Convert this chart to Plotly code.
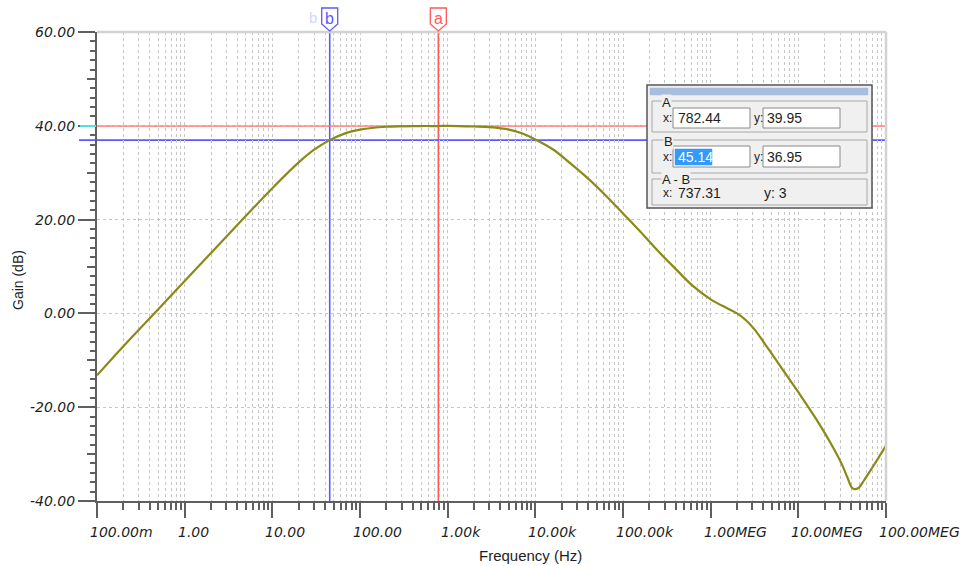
import math
import plotly.graph_objects as go

# ---------------- data ----------------
freq_hz = [0.1, 0.2, 0.5, 1, 2, 5, 10, 20, 30, 45.14, 70, 100, 200, 500, 782.44,
           1000, 2000, 3000, 5000, 7000, 10000, 15800, 25100, 39800, 63100, 100000,
           158000, 251000, 398000, 631000, 1000000, 1580000, 2000000, 2510000,
           3160000, 3980000, 5010000, 6310000, 10000000, 15800000, 25100000,
           31600000, 36300000, 41700000, 47900000, 56200000, 70800000, 83200000,
           100000000]
gain_db = [-13.2, -7.0, 0.9, 6.9, 12.9, 20.8, 26.7, 32.2, 34.9, 36.95, 38.5, 39.2,
           39.8, 39.95, 39.95, 40.0, 39.85, 39.7, 39.2, 38.4, 37.1, 35.0, 32.0, 28.8,
           25.2, 21.3, 17.4, 13.3, 9.5, 5.8, 3.0, 1.0, 0.0, -1.4, -3.4, -6.0, -8.7,
           -11.4, -16.8, -22.4, -28.7, -32.3, -35.0, -37.3, -37.3, -35.6, -32.7,
           -30.6, -28.2]

x_tick_vals = [0.1, 1, 10, 100, 1e3, 1e4, 1e5, 1e6, 1e7, 1e8]
x_tick_text = ["100.00m", "1.00", "10.00", "100.00", "1.00k", "10.00k", "100.00k",
               "1.00MEG", "10.00MEG", "100.00MEG"]
y_tick_vals = [-40, -20, 0, 20, 40, 60]
y_tick_text = ["-40.00", "-20.00", "0.00", "20.00", "40.00", "60.00"]
y_mid_ticks = [-30, -10, 10, 30, 50]

cursor_a = (782.44, 39.95)
cursor_b = (45.14, 36.95)
delta_ab = (737.31, 3)

# ---------------- layout geometry (pixels) ----------------
W, H = 966, 566
L, R, T, B = 97, 886, 32, 501
PW, PH = R - L, B - T


def px(x):
    return (x - L) / PW


def py(y):
    return (B - y) / PH


AXC = "#5f5f5f"
GRIDC = "#c6c6c6"
TXT = "#1e1e1e"
CURVE = "#8a8a17"
RED = "#ff5a5a"
BLUE = "#5a5aff"
FONT = "Liberation Sans, Arial, sans-serif"
TICKFONT = dict(family="DejaVu Sans, sans-serif", size=14, color=TXT, style="italic")

fig = go.Figure()

fig.add_trace(go.Scatter(
    x=freq_hz, y=gain_db, mode="lines",
    line=dict(color=CURVE, width=2.2, shape="spline", smoothing=1.0),
    hoverinfo="skip", showlegend=False))

# invisible trace to activate yaxis2 overlay (for 10 dB ticks)
fig.add_trace(go.Scatter(x=[freq_hz[0]], y=[gain_db[0]], yaxis="y2", mode="markers",
                         marker=dict(opacity=0), hoverinfo="skip", showlegend=False))

shapes = []
annotations = []

# cursor lines (between grid and traces)
shapes.append(dict(type="line", xref="x", yref="paper", x0=cursor_a[0], x1=cursor_a[0],
                   y0=0, y1=1, line=dict(color=RED, width=1.6), layer="between"))
shapes.append(dict(type="line", xref="x", yref="paper", x0=cursor_b[0], x1=cursor_b[0],
                   y0=0, y1=1, line=dict(color=BLUE, width=1.6), layer="between"))
shapes.append(dict(type="line", xref="paper", yref="y", x0=0, x1=1,
                   y0=cursor_a[1], y1=cursor_a[1], line=dict(color="#ff7070", width=1.4),
                   layer="between"))
shapes.append(dict(type="line", xref="paper", yref="y", x0=px(79), x1=1,
                   y0=cursor_b[1], y1=cursor_b[1], line=dict(color=BLUE, width=1.6),
                   layer="between"))
shapes.append(dict(type="line", xref="paper", yref="y", x0=px(80), x1=px(96),
                   y0=cursor_a[1], y1=cursor_a[1], line=dict(color="#55e0e0", width=2)))

# plot frame (top/right light gray)
shapes.append(dict(type="line", xref="paper", yref="paper", x0=0, x1=1, y0=1, y1=1,
                   line=dict(color="#d2d2d2", width=2.5)))
shapes.append(dict(type="line", xref="paper", yref="paper", x0=1, x1=1, y0=0, y1=1,
                   line=dict(color="#d2d2d2", width=2.5)))

# cursor flags at the top
for (cx, _), col, lab in [(cursor_b, BLUE, "b"), (cursor_a, RED, "a")]:
    shapes.append(dict(type="path", xref="x", yref="paper", xsizemode="pixel",
                       ysizemode="pixel", xanchor=cx, yanchor=1,
                       path="M -8,24 L 8,24 L 8,8 L 0,1 L -8,8 Z",
                       fillcolor="white", line=dict(color=col, width=1.3)))
    annotations.append(dict(x=math.log10(cx), y=1, xref="x", yref="paper",
                            text=lab, showarrow=False, yshift=14, yanchor="middle",
                            xanchor="center",
                            font=dict(family=FONT, size=16, color=col)))
annotations.append(dict(x=px(313), y=py(18), xref="paper", yref="paper", text="b",
                        showarrow=False, xanchor="center", yanchor="middle",
                        font=dict(family=FONT, size=15, color="#d4d4ff")))

# ---------------- info box ----------------
def rect(x0, y0, x1, y1, fill=None, line="#a0a0a0", lw=1):
    d = dict(type="rect", xref="paper", yref="paper", x0=px(x0), x1=px(x1),
             y0=py(y1), y1=py(y0), line=dict(color=line, width=lw))
    d["fillcolor"] = fill if fill else "rgba(0,0,0,0)"
    return d


def text(x, y, s, size=14, color=TXT, anchor="left", bg=None):
    d = dict(x=px(x), y=py(y), xref="paper", yref="paper", text=s, showarrow=False,
             xanchor=anchor, yanchor="middle", font=dict(family=FONT, size=size, color=color))
    if bg:
        d["bgcolor"] = bg
        d["borderpad"] = 0
    return d


shapes.append(rect(647, 85, 872, 208, fill="#f0f0f0", line="#555555", lw=1.5))
shapes.append(rect(650, 88, 868, 95, fill="#a7bfdc", line="#a7bfdc", lw=0.5))
for (y0, y1) in [(101, 132), (140, 173), (179, 205)]:
    shapes.append(rect(652, y0, 867, y1, line="#a8a8a8", lw=1))
for (y0, y1) in [(108, 128), (146, 167)]:
    shapes.append(rect(673, y0, 750, y1, fill="white", line="#8a8a8a", lw=1))
    shapes.append(rect(763, y0, 840, y1, fill="white", line="#8a8a8a", lw=1))
shapes.append(rect(675, 149, 712, 165, fill="#3399ff", line="#3399ff", lw=0.5))

annotations += [
    text(661, 102, "A", 13, bg="#f0f0f0"),
    text(661, 118, "x:", 12),
    text(676, 118, f"{cursor_a[0]:.2f}", 14),
    text(752, 118, "y:", 12),
    text(765, 118, f"{cursor_a[1]:.2f}", 14),
    text(663, 141, "B", 13, bg="#f0f0f0"),
    text(661, 157, "x:", 12),
    text(676, 157, f"{cursor_b[0]:.2f}", 14, color="white"),
    text(752, 157, "y:", 12),
    text(765, 157, f"{cursor_b[1]:.2f}", 14),
    text(661, 180, "A - B", 13, bg="#f0f0f0"),
    text(661, 193, "x:", 12),
    text(676, 193, f"{delta_ab[0]:.2f}", 14),
    text(762, 193, f"y: {delta_ab[1]}", 14),
]

# x tick labels (left aligned to tick)
for v, s in zip(x_tick_vals, x_tick_text):
    annotations.append(dict(x=math.log10(v), y=0, xref="x", yref="paper", text=s,
                            showarrow=False, xanchor="left", yanchor="middle",
                            xshift=-9, yshift=-31, font=TICKFONT))

# axis titles
annotations.append(dict(x=px(530), y=0, xref="paper", yref="paper", text="Frequency (Hz)",
                        showarrow=False, yanchor="middle", yshift=-54,
                        font=dict(family=FONT, size=15, color=TXT)))
annotations.append(dict(x=px(18), y=py(280), xref="paper", yref="paper", text="Gain (dB)",
                        showarrow=False, textangle=-90, xanchor="center", yanchor="middle",
                        font=dict(family=FONT, size=14, color=TXT)))

fig.update_layout(
    width=W, height=H, autosize=False,
    margin=dict(l=L, r=W - R, t=T, b=H - B, pad=0),
    paper_bgcolor="white", plot_bgcolor="white",
    showlegend=False,
    shapes=shapes, annotations=annotations,
    xaxis=dict(type="log", range=[-1, 8], dtick=1, showticklabels=False,
               ticks="outside", ticklen=15, tickwidth=2, tickcolor=AXC,
               showline=True, linecolor=AXC, linewidth=2,
               showgrid=True, gridcolor=GRIDC, griddash="dot", gridwidth=1,
               zeroline=False,
               minor=dict(dtick="D1", ticks="outside", ticklen=7, tickwidth=1.5,
                          tickcolor=AXC, showgrid=True, gridcolor=GRIDC,
                          griddash="dot", gridwidth=1)),
    yaxis=dict(range=[-40, 60], tickvals=y_tick_vals, ticktext=y_tick_text,
               ticks="outside", ticklen=17, tickwidth=2, tickcolor=AXC,
               showline=True, linecolor=AXC, linewidth=2,
               showgrid=True, gridcolor=GRIDC, griddash="dot", gridwidth=1,
               zeroline=False, tickfont=TICKFONT,
               minor=dict(dtick=2, tick0=0, ticks="outside", ticklen=5, tickwidth=1.5,
                          tickcolor=AXC, showgrid=False)),
    yaxis2=dict(range=[-40, 60], overlaying="y", side="left", anchor="x",
                tickvals=y_mid_ticks, ticks="outside", ticklen=9, tickwidth=1.5,
                tickcolor=AXC, showticklabels=False, showgrid=False, showline=False,
                zeroline=False),
)

fig.write_html("out.html", config={"displayModeBar": False},
               post_script="document.body.style.margin='0';"
                           "document.body.style.overflow='hidden';")
